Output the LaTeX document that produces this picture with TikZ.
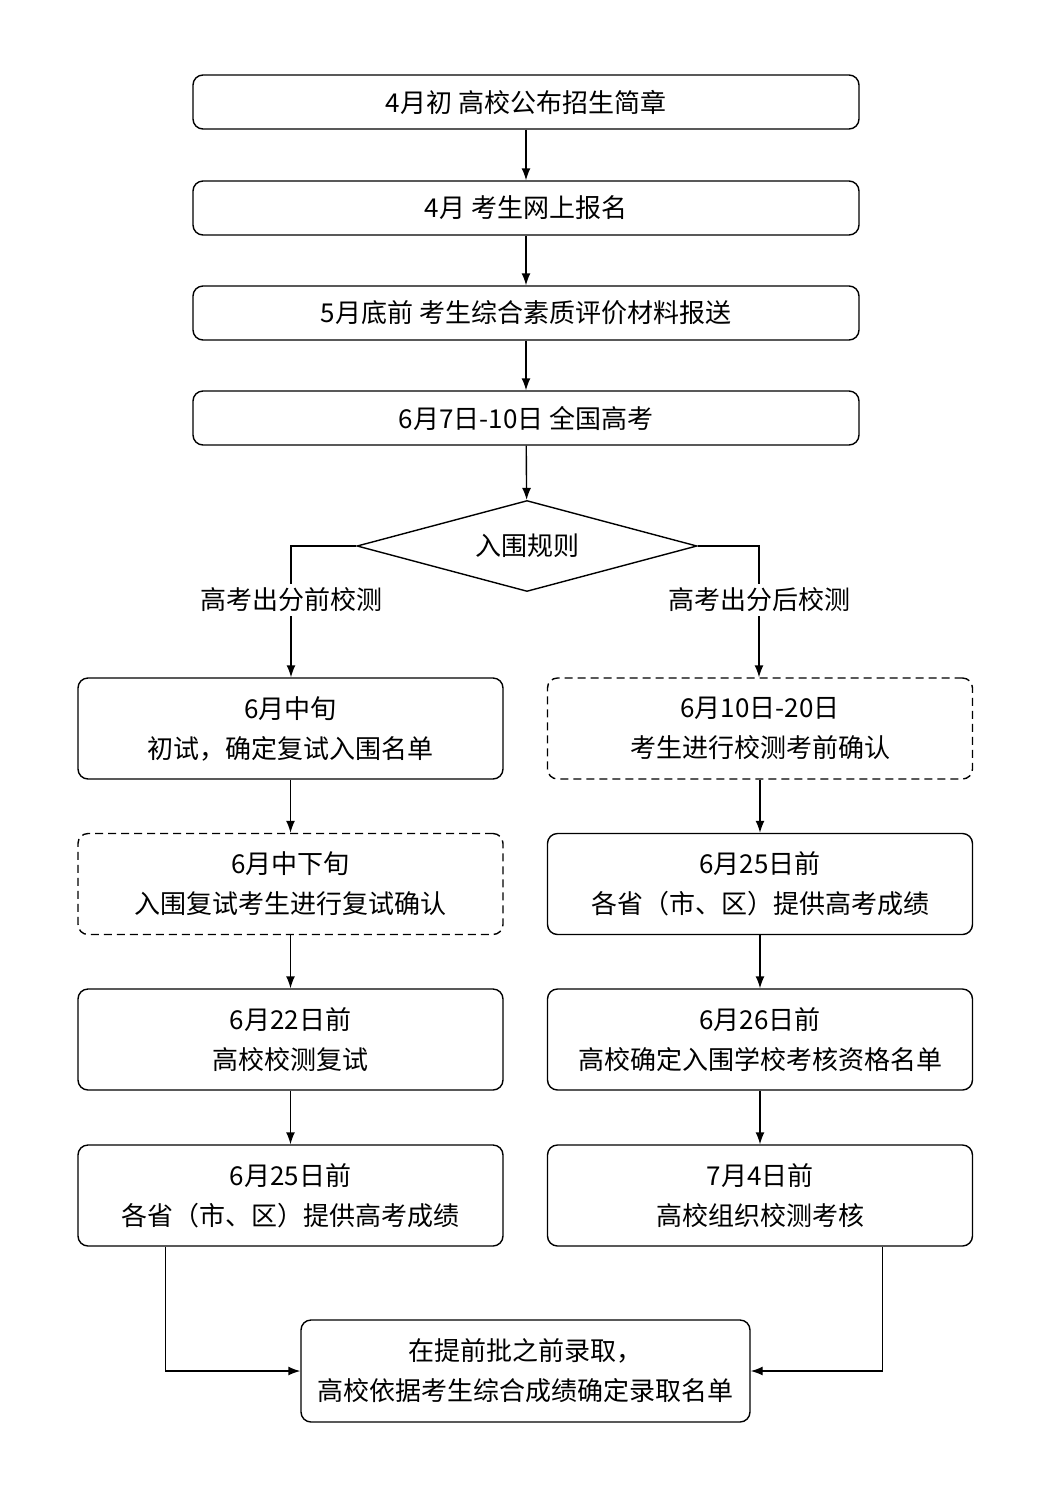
\documentclass[tikz,border=0pt]{standalone}
\usepackage{fontspec}
\newfontfamily\cjk{Noto Sans CJK SC}
\usetikzlibrary{shapes.geometric,arrows.meta}
\begin{document}
\begin{tikzpicture}[x=0.5pt,y=-0.5pt,
  every node/.style={font=\cjk\fontsize{13}{20}\selectfont, align=center},
  box/.style={draw, rounded corners=5pt, line width=0.7pt, inner sep=0pt},
  wide/.style={box, minimum width=333pt, minimum height=27pt},
  col/.style={box, minimum width=212.5pt, minimum height=50.5pt},
  dbox/.style={col, dash pattern=on 4pt off 2.5pt},
  arr/.style={-{Latex[length=6pt,width=4.5pt]}, line width=0.7pt},
  ln/.style={line width=0.7pt},
  lab/.style={fill=white, inner sep=2pt}]
\useasboundingbox (0,0) rectangle (1055,1490);
\node[wide] (a) at (526,102) {4月初 高校公布招生简章};
\node[wide] (b) at (526,208) {4月 考生网上报名};
\node[wide] (c) at (526,313) {5月底前 考生综合素质评价材料报送};
\node[wide] (e) at (526,418) {6月7日-10日 全国高考};
\node[draw, diamond, aspect=3.7, line width=0.7pt, minimum width=170pt, minimum height=45.5pt, inner sep=0pt] (d) at (527,546) {入围规则};
\node[lab] (l1) at (291,600) {高考出分前校测};
\node[lab] (l2) at (759,600) {高考出分后校测};
\node[col] (L1) at (290.5,728.5) {6月中旬\\初试，确定复试入围名单};
\node[dbox] (L2) at (290.5,884) {6月中下旬\\入围复试考生进行复试确认};
\node[col] (L3) at (290.5,1039.5) {6月22日前\\高校校测复试};
\node[col] (L4) at (290.5,1195.5) {6月25日前\\各省（市、区）提供高考成绩};
\node[dbox] (R1) at (760,728.5) {6月10日-20日\\考生进行校测考前确认};
\node[col] (R2) at (760,884) {6月25日前\\各省（市、区）提供高考成绩};
\node[col] (R3) at (760,1039.5) {6月26日前\\高校确定入围学校考核资格名单};
\node[col] (R4) at (760,1195.5) {7月4日前\\高校组织校测考核};
\node[box, minimum width=224.5pt, minimum height=51pt] (f) at (525.5,1371) {在提前批之前录取，\\高校依据考生综合成绩确定录取名单};
\draw[arr] (a) -- (b);
\draw[arr] (b) -- (c);
\draw[arr] (c) -- (e);
\draw[arr] (e) -- (d);
\draw[ln] (d.west) -| (l1.north);
\draw[ln] (d.east) -| (l2.north);
\draw[arr] (l1.south) -- (l1.south |- L1.north);
\draw[arr] (l2.south) -- (l2.south |- R1.north);
\draw[arr] (L1) -- (L2);
\draw[arr] (L2) -- (L3);
\draw[arr] (L3) -- (L4);
\draw[arr] (R1) -- (R2);
\draw[arr] (R2) -- (R3);
\draw[arr] (R3) -- (R4);
\draw[arr] ([xshift=44pt]L4.south west) |- (f.west);
\draw[arr] ([xshift=-45.5pt]R4.south east) |- (f.east);
\end{tikzpicture}
\end{document}
